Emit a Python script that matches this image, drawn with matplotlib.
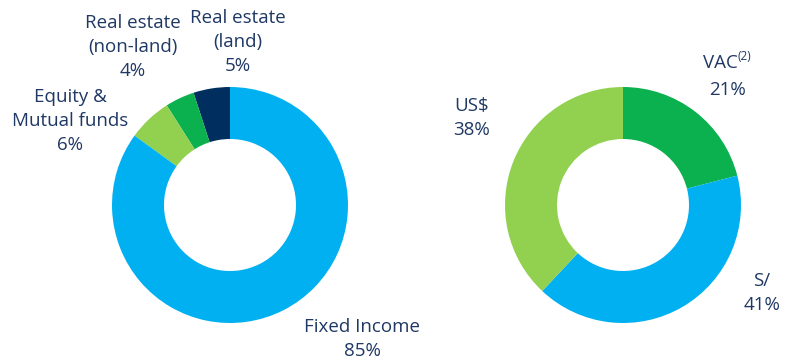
import matplotlib.pyplot as plt

# portfolio by asset class (left ring, counter-clockwise from 12 o'clock)
asset_labels = ["Real estate\n(land)", "Real estate\n(non-land)", "Equity &\nMutual funds", "Fixed Income"]
asset_shares = [5, 4, 6, 85]
asset_colors = ["#002F5F", "#0BB04F", "#92D050", "#00B0F0"]

# portfolio by currency (right ring, clockwise from 12 o'clock)
ccy_labels = ["VAC", "S/", "US$"]
ccy_shares = [21, 41, 38]
ccy_colors = ["#0BB04F", "#00B0F0", "#92D050"]

TEXT = "#1F3864"
FONT = "Open Sans"
H = 361

fig = plt.figure(figsize=(7.86, 3.61), dpi=100)
ax = fig.add_axes([0, 0, 1, 1])

R, W = 118, 52
ax.pie(asset_shares, colors=asset_colors, startangle=90, counterclock=True,
       center=(230, H - 205), radius=R, wedgeprops=dict(width=W, linewidth=0))
ax.pie(ccy_shares, colors=ccy_colors, startangle=90, counterclock=False,
       center=(623, H - 205), radius=R, wedgeprops=dict(width=W, linewidth=0))
# pie() resets limits / aspect
ax.set_xlim(0, 786)
ax.set_ylim(0, H)
ax.set_aspect("equal")
ax.axis("off")

kw = dict(color=TEXT, family=FONT, fontsize=13.5, ha="center", va="center", linespacing=1.4)

def label(x, y, name, pct):
    # y measured from the top edge
    ax.text(x, H - y, f"{name}\n{pct}%", **kw)

label(238, 42, asset_labels[0], asset_shares[0])
label(133, 47, asset_labels[1], asset_shares[1])
label(70, 121, asset_labels[2], asset_shares[2])
label(362, 339, asset_labels[3], asset_shares[3])

label(472, 118, ccy_labels[2], ccy_shares[2])
label(762, 293, ccy_labels[1], ccy_shares[1])
# VAC with superscript note marker
ax.text(738, H - 63, ccy_labels[0], **{**kw, "ha": "right"})
ax.text(738, H - 57, "(2)", color=TEXT, family=FONT, fontsize=8.5, ha="left", va="center")
ax.text(727, H - 90, f"{ccy_shares[0]}%", **kw)

fig.savefig("out.png", dpi=100)
